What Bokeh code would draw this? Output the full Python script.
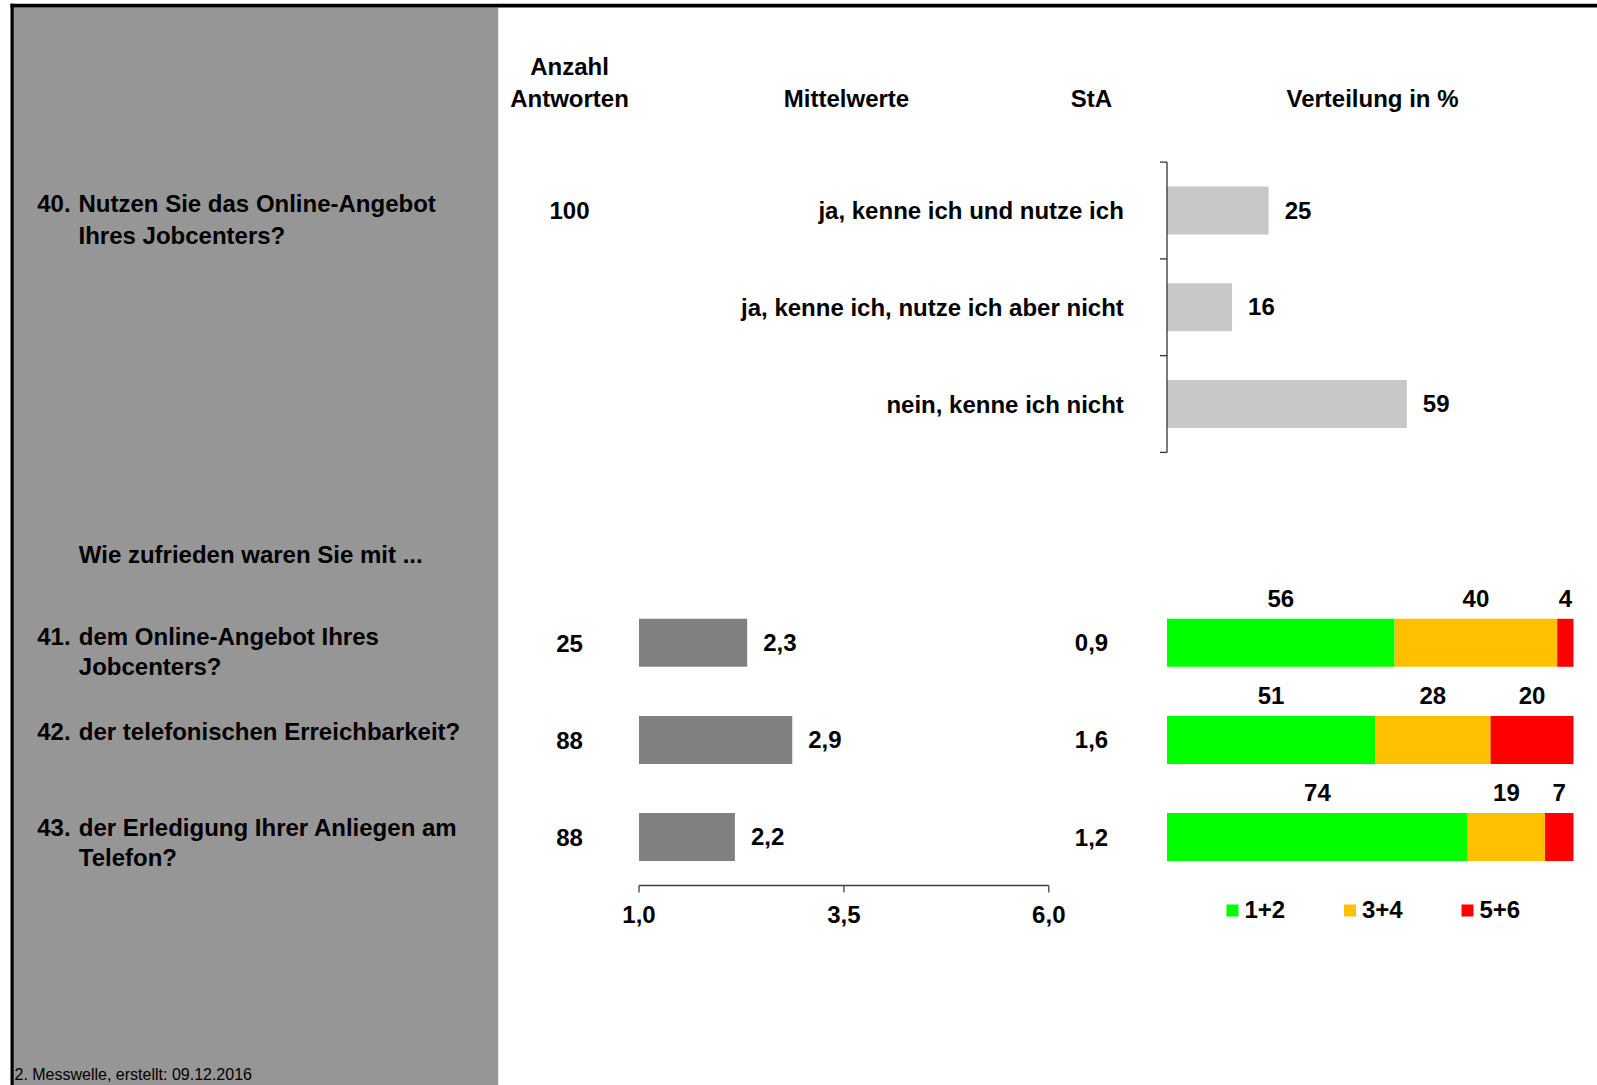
from bokeh.plotting import figure
from bokeh.models import Range1d
from bokeh.core.properties import value
from bokeh.embed import file_html
from bokeh.resources import INLINE

# ---------------- data ----------------
HEAD_N = ["Anzahl", "Antworten"]
HEAD_MEAN = "Mittelwerte"
HEAD_STA = "StA"
HEAD_DIST = "Verteilung in %"

TOP_NO = "40."
TOP_QUESTION = ["Nutzen Sie das Online-Angebot", "Ihres Jobcenters?"]
TOP_N = 100
TOP_CATEGORIES = ["ja, kenne ich und nutze ich",
                  "ja, kenne ich, nutze ich aber nicht",
                  "nein, kenne ich nicht"]
TOP_PERCENT = [25, 16, 59]

SUB_HEADING = "Wie zufrieden waren Sie mit ..."
ITEM_NOS = ["41.", "42.", "43."]
ITEM_TEXTS = [["dem Online-Angebot Ihres", "Jobcenters?"],
              ["der telefonischen Erreichbarkeit?"],
              ["der Erledigung Ihrer Anliegen am", "Telefon?"]]
ITEM_N = [25, 88, 88]
ITEM_MEAN = [2.32, 2.87, 2.17]
ITEM_STA = [0.9, 1.6, 1.2]
SHARE_12 = [56, 51.2, 74]
SHARE_34 = [40, 28.4, 19]
SHARE_56 = [4, 20.4, 7]
DIST_LABELS = ["1+2", "3+4", "5+6"]
DIST_COLORS = ["#00FF00", "#FFC000", "#FF0000"]
MEAN_TICKS = [1.0, 3.5, 6.0]
FOOTER = "2. Messwelle, erstellt: 09.12.2016"

# ---------------- layout ----------------
W, H = 1597, 1085
FONT = "Liberation Sans"
TEXT_DY = -1.5
MEAN_PX = (638.5, 1048.3)
PCT_PX0 = 1166.5
PCT_K = 4.065
TOP_Y = [210 + i * 96.75 for i in range(3)]
ITEM_Y = [642.3 + i * 97.1 for i in range(3)]
ITEM_LABEL_Y = [637.3, 732.5, 828.3]
BAR_H = 48

k_mean = (MEAN_PX[1] - MEAN_PX[0]) / (MEAN_TICKS[-1] - MEAN_TICKS[0])

p = figure(width=W, height=H, x_range=Range1d(0, W), y_range=Range1d(H, 0),
           output_backend="svg", toolbar_location=None,
           x_axis_type=None, y_axis_type=None, min_border=0,
           outline_line_color=None, background_fill_color="white",
           border_fill_color="white",
           styles={"position": "absolute", "left": "0px", "top": "0px"})
p.extra_x_ranges = {
    "mean": Range1d(MEAN_TICKS[0] - MEAN_PX[0] / k_mean,
                    MEAN_TICKS[0] + (W - MEAN_PX[0]) / k_mean),
    "pct": Range1d(-PCT_PX0 / PCT_K, (W - PCT_PX0) / PCT_K),
}


def txt(x, y, texts, align="left", size="24px", style="bold", rng="default",
        x_offset=0):
    p.text(x=x, y=y, text=list(texts), text_font=value(FONT),
           text_font_size=size, text_font_style=style, text_align=align,
           text_baseline="middle", text_color="black", x_range_name=rng,
           x_offset=x_offset, y_offset=TEXT_DY)


# background panel and frame
p.quad(left=13.3, right=497.7, top=7, bottom=H, color="#969696", line_width=0)
p.quad(left=10, right=W, top=3.3, bottom=7, color="black", line_width=0)
p.quad(left=10, right=13.3, top=3.3, bottom=H, color="black", line_width=0)

# headers
txt(569, 67, [HEAD_N[0]], align="center")
txt([569, 846, 1091, 1372], 99, [HEAD_N[1], HEAD_MEAN, HEAD_STA, HEAD_DIST],
    align="center")

# ---- question 40 ----
txt(36.7, 204.7, [TOP_NO])
txt(78, [204.7, 236], TOP_QUESTION)
txt(569, TOP_Y[0] + 1.5, [str(TOP_N)], align="center")
txt(1123.3, [y + 1.5 for y in TOP_Y], TOP_CATEGORIES, align="right")
p.hbar(y=TOP_Y, left=0, right=TOP_PERCENT, height=BAR_H, color="#C8C8C8",
       line_width=0, x_range_name="pct")
txt(TOP_PERCENT, [y + 1 for y in TOP_Y], [str(v) for v in TOP_PERCENT],
    rng="pct", x_offset=16)
# category axis of question 40
bounds = [TOP_Y[0] - 48.4] + [y + 48.4 for y in TOP_Y]
p.segment(x0=0, y0=bounds[0], x1=0, y1=bounds[-1], line_color="#333333",
          line_width=1.3, x_range_name="pct")
p.segment(x0=0, y0=bounds, x1=-7 / PCT_K, y1=bounds, line_color="#333333",
          line_width=1.3, x_range_name="pct")

# ---- questions 41-43 ----
txt(78.3, 555, [SUB_HEADING])
for no, lines, ly in zip(ITEM_NOS, ITEM_TEXTS, ITEM_LABEL_Y):
    txt(36.7, ly, [no])
    txt(78.3, [ly + i * 30.5 for i in range(len(lines))], lines)

txt(569, [y + 2 for y in ITEM_Y], [str(v) for v in ITEM_N], align="center")

# means
p.hbar(y=ITEM_Y, left=MEAN_TICKS[0], right=ITEM_MEAN, height=BAR_H,
       color="#808080", line_width=0, x_range_name="mean")
txt(ITEM_MEAN, [y + 1 for y in ITEM_Y],
    [f"{v:.1f}".replace(".", ",") for v in ITEM_MEAN], rng="mean", x_offset=16)
AX_Y = 885
p.segment(x0=MEAN_TICKS[0], y0=AX_Y, x1=MEAN_TICKS[-1], y1=AX_Y,
          line_color="#404040", line_width=1.3, x_range_name="mean")
p.segment(x0=MEAN_TICKS, y0=AX_Y, x1=MEAN_TICKS, y1=AX_Y + 7,
          line_color="#404040", line_width=1.3, x_range_name="mean")
txt(MEAN_TICKS, 915, [f"{v:.1f}".replace(".", ",") for v in MEAN_TICKS],
    align="center", rng="mean")

# standard deviation
txt(1091, [y + 1.5 for y in ITEM_Y],
    [f"{v:.1f}".replace(".", ",") for v in ITEM_STA], align="center")

# distribution stacked bars
lefts = [0, 0, 0]
for shares, color in zip([SHARE_12, SHARE_34, SHARE_56], DIST_COLORS):
    rights = [l + s for l, s in zip(lefts, shares)]
    p.hbar(y=ITEM_Y, left=lefts, right=rights, height=BAR_H, color=color,
           line_width=0, x_range_name="pct")
    txt([l + s / 2 for l, s in zip(lefts, shares)], [y - 43 for y in ITEM_Y],
        [str(round(s)) for s in shares], align="center", rng="pct")
    lefts = rights

# legend
LEG_X = [1232, 1349.5, 1467]
p.scatter(x=LEG_X, y=910, marker="square", size=12, color=DIST_COLORS,
          line_width=0)
txt([x + 12 for x in LEG_X], 910, DIST_LABELS)

# footer
txt(14, 1075, [FOOTER], size="16px", style="normal")

open("out.html", "w").write(file_html(p, INLINE))
